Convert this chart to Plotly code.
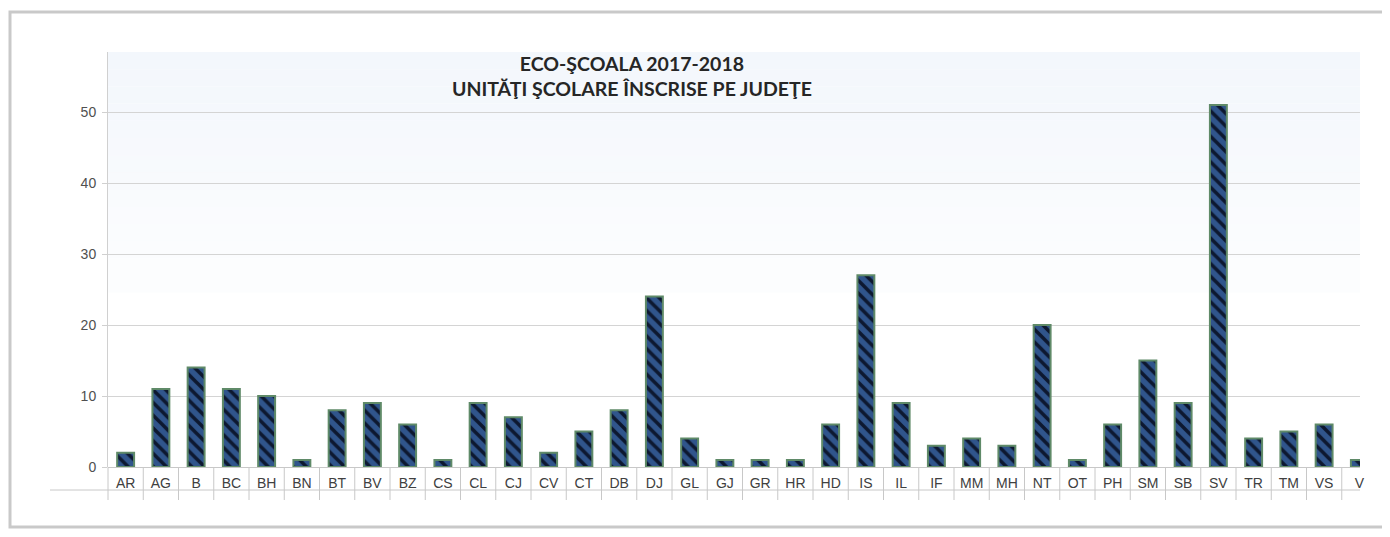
import plotly.graph_objects as go

categories = ["AR", "AG", "B", "BC", "BH", "BN", "BT", "BV", "BZ", "CS", "CL", "CJ",
              "CV", "CT", "DB", "DJ", "GL", "GJ", "GR", "HR", "HD", "IS", "IL", "IF",
              "MM", "MH", "NT", "OT", "PH", "SM", "SB", "SV", "TR", "TM", "VS", "VL"]
values = [2, 11, 14, 11, 10, 1, 8, 9, 6, 1, 9, 7,
          2, 5, 8, 24, 4, 1, 1, 1, 6, 27, 9, 3,
          4, 3, 20, 1, 6, 15, 9, 51, 4, 5, 6, 1]
tick_labels = ["AR", "AG", "B", "BC", "BH", "BN", "BT", "BV", "BZ", "CS", "CL", "CJ",
               "CV", "CT", "DB", "DJ", "GL", "GJ", "GR", "HR", "HD", "IS", "IL", "IF",
               "MM", "MH", "NT", "OT", "PH", "SM", "SB", "SV", "TR", "TM", "VS", "V"]
y_ticks = [0, 10, 20, 30, 40, 50]

OFF = 8  # browser body margin
W, H = 1390 - 2 * OFF, 537 - 2 * OFF
# page-pixel positions of the plot area
PL, PR, PT, PB = 108, 1360, 52, 467
L = PL - OFF
T = PT - OFF
R = W - (PR - OFF)
B = H - (PB - OFF)
pw = PR - PL
ph = PB - PT

def px_x(p):
    return (p - PL) / pw

def px_y(p):
    return (PB - p) / ph

idx = list(range(len(categories)))

fig = go.Figure()
fig.add_trace(go.Bar(
    x=idx, y=values,
    marker=dict(
        color="#30558c",
        line=dict(color="#5f8a68", width=2),
        pattern=dict(shape="\\", fgcolor="#0d1830", bgcolor="#30558c",
                     size=9, solidity=0.4, fillmode="replace"),
    ),
    width=0.48,
    hoverinfo="x+y",
))

shapes = []
# plot background gradient (light blue at top, fading)
n = 14
for i in range(n):
    y0 = 0.42 + 0.58 * i / n
    y1 = 0.42 + 0.58 * (i + 1) / n
    op = 0.15 + 0.85 * (i + 1) / n
    shapes.append(dict(type="rect", xref="paper", yref="paper", x0=0, x1=1,
                       y0=y0, y1=y1, fillcolor="#f3f7fc", opacity=op,
                       line=dict(width=0), layer="below"))
# outer frame
shapes.append(dict(type="rect", xref="paper", yref="paper",
                   x0=px_x(10), x1=px_x(1420), y0=px_y(527), y1=px_y(12),
                   line=dict(color="#c9c9c9", width=3), fillcolor="rgba(0,0,0,0)"))
# data table separators
for i in range(len(categories)):
    shapes.append(dict(type="line", xref="x", yref="paper", x0=i + 0.5, x1=i + 0.5,
                       y0=px_y(467), y1=px_y(500), line=dict(color="#c8c8c8", width=1)))
shapes.append(dict(type="line", xref="paper", yref="paper", x0=0, x1=0,
                   y0=px_y(467), y1=px_y(500), line=dict(color="#c8c8c8", width=1)))
shapes.append(dict(type="line", xref="paper", yref="paper", x0=px_x(50), x1=1,
                   y0=px_y(490), y1=px_y(490), line=dict(color="#c8c8c8", width=1)))

fig.update_layout(
    width=W, height=H,
    margin=dict(l=L, r=R, t=T, b=B, pad=0),
    paper_bgcolor="white",
    plot_bgcolor="white",
    showlegend=False,
    bargap=0.5,
    shapes=shapes,
    annotations=[dict(
        text="<b>ECO-ŞCOALA 2017-2018<br>UNITĂŢI ŞCOLARE ÎNSCRISE PE JUDEŢE</b>",
        xref="paper", yref="paper", x=px_x(632), y=px_y(76),
        xanchor="center", yanchor="middle", showarrow=False,
        font=dict(family="Lato", size=19.5, color="#262626"),
    )],
    xaxis=dict(
        range=[-0.5, -0.5 + pw / 35.25],
        tickmode="array", tickvals=idx, ticktext=tick_labels,
        showgrid=False, zeroline=False, showline=False,
        ticks="outside", ticklen=3, tickcolor="rgba(0,0,0,0)",
        tickfont=dict(family="Liberation Sans", size=14, color="#404040"),
        fixedrange=True,
    ),
    yaxis=dict(
        range=[0, ph / 7.1],
        tickmode="array", tickvals=y_ticks,
        showgrid=True, gridcolor="#d4d4d4", gridwidth=1,
        zeroline=True, zerolinecolor="#c8c8c8", zerolinewidth=1,
        showline=True, linecolor="#d0d0d0", linewidth=1,
        ticks="outside", ticklen=5, tickcolor="#d0d0d0",
        ticklabelstandoff=3,
        tickfont=dict(family="Liberation Sans", size=14, color="#505050"),
        fixedrange=True,
    ),
)

fig.write_html("out.html")
